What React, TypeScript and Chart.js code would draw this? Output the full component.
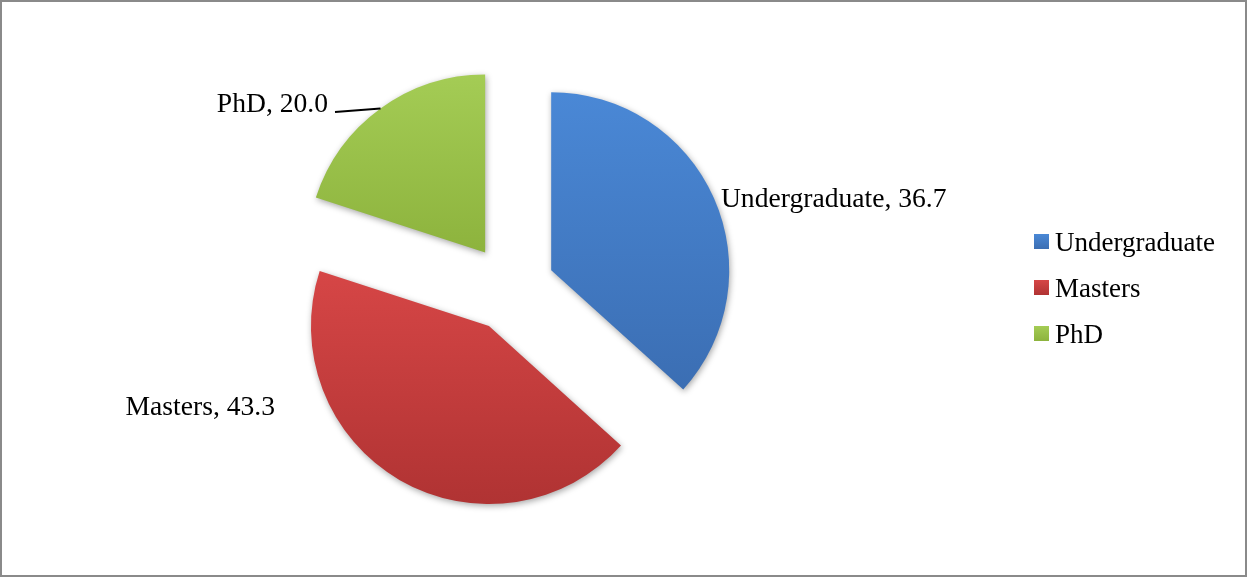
import React, { useEffect, useRef } from "react";
import { Chart, registerables } from "chart.js";

Chart.register(...registerables);

const categories = ["Undergraduate", "Masters", "PhD"];
const values = [36.7, 43.3, 20.0];

const topColors = ["#4a88d6", "#d64646", "#a4cc55"];
const bottomColors = ["#3b6eb3", "#b03333", "#8db33d"];

const RADIUS = 178;
const EXPLODE = 44;
const LABEL_FONT = '27.6px "Liberation Serif", "Times New Roman", serif';
const LEGEND_FONT = '27px "Liberation Serif", "Times New Roman", serif';

// label placement: clock angle (deg) from slice apex, distance as factor of radius, alignment
const labelAngles = [69.5, 247.4, 311.8];
const labelDist = [1.018, 1.302, 1.184];
const labelAlign: CanvasTextAlign[] = ["left", "right", "right"];
const labelLeader = [false, false, true];

function sliceGeometry(chart: any, i: number) {
  const area = chart.chartArea;
  const cx = (area.left + area.right) / 2;
  const cy = (area.top + area.bottom) / 2;
  const total = values.reduce((a, b) => a + b, 0);
  let start = -Math.PI / 2;
  for (let k = 0; k < i; k++) start += (values[k] / total) * Math.PI * 2;
  const end = start + (values[i] / total) * Math.PI * 2;
  const mid = (start + end) / 2;
  const ax = cx + Math.cos(mid) * EXPLODE;
  const ay = cy + Math.sin(mid) * EXPLODE;
  return { ax, ay, start, end, mid };
}

function gradientFor(c: any) {
  const chart = c.chart;
  const i = c.dataIndex;
  if (!chart.chartArea || i === undefined) return topColors[i || 0];
  const g = sliceGeometry(chart, i);
  let ymin = g.ay;
  let ymax = g.ay;
  for (let t = 0; t <= 40; t++) {
    const a = g.start + ((g.end - g.start) * t) / 40;
    const y = g.ay + Math.sin(a) * RADIUS;
    ymin = Math.min(ymin, y);
    ymax = Math.max(ymax, y);
  }
  const grad = chart.ctx.createLinearGradient(0, ymin, 0, ymax);
  grad.addColorStop(0, topColors[i]);
  grad.addColorStop(1, bottomColors[i]);
  return grad;
}

const explodePlugin = {
  id: "explodeSlices",
  beforeDatasetDraw(chart: any, args: any) {
    const ctx = chart.ctx;
    ctx.save();
    ctx.shadowColor = "rgba(0,0,0,0.35)";
    ctx.shadowBlur = 6;
    ctx.shadowOffsetX = 1;
    ctx.shadowOffsetY = 2;
    args.meta.data.forEach((arc: any) => {
      const mid = (arc.startAngle + arc.endAngle) / 2;
      arc.x += Math.cos(mid) * EXPLODE;
      arc.y += Math.sin(mid) * EXPLODE;
    });
  },
  afterDatasetDraw(chart: any, args: any) {
    chart.ctx.restore();
    args.meta.data.forEach((arc: any) => {
      const mid = (arc.startAngle + arc.endAngle) / 2;
      arc.x -= Math.cos(mid) * EXPLODE;
      arc.y -= Math.sin(mid) * EXPLODE;
    });
  },
  afterDatasetsDraw(chart: any) {
    const ctx = chart.ctx;
    const meta = chart.getDatasetMeta(0);
    ctx.save();
    ctx.font = LABEL_FONT;
    ctx.fillStyle = "#000";
    ctx.textBaseline = "alphabetic";
    meta.data.forEach((arc: any, i: number) => {
      const mid = (arc.startAngle + arc.endAngle) / 2;
      const ax = arc.x + Math.cos(mid) * EXPLODE;
      const ay = arc.y + Math.sin(mid) * EXPLODE;
      const r = arc.outerRadius;
      const la = ((labelAngles[i] - 90) * Math.PI) / 180;
      const lx = ax + Math.cos(la) * r * labelDist[i];
      const ly = ay + Math.sin(la) * r * labelDist[i];
      ctx.textAlign = labelAlign[i];
      ctx.fillText(`${categories[i]}, ${values[i].toFixed(1)}`, lx, ly);
      if (labelLeader[i]) {
        const px = ax + Math.cos(mid) * r;
        const py = ay + Math.sin(mid) * r;
        ctx.beginPath();
        ctx.strokeStyle = "#000";
        ctx.lineWidth = 2;
        ctx.moveTo(lx + 7, ly);
        ctx.lineTo(px, py);
        ctx.stroke();
      }
    });
    ctx.restore();
  },
  afterDraw(chart: any) {
    const ctx = chart.ctx;
    ctx.save();
    // legend
    const lx = 1034;
    const baselines = [251, 297, 343];
    ctx.font = LEGEND_FONT;
    ctx.textAlign = "left";
    ctx.textBaseline = "alphabetic";
    categories.forEach((name, i) => {
      const y = baselines[i] - 17;
      const g = ctx.createLinearGradient(0, y, 0, y + 15);
      g.addColorStop(0, topColors[i]);
      g.addColorStop(1, bottomColors[i]);
      ctx.fillStyle = g;
      ctx.fillRect(lx, y, 15, 15);
      ctx.fillStyle = "#000";
      ctx.fillText(name, lx + 21, baselines[i]);
    });
    // frame
    ctx.strokeStyle = "#8a8a8a";
    ctx.lineWidth = 2;
    ctx.strokeRect(1, 1, chart.width - 2, chart.height - 2);
    ctx.restore();
  },
};

export default function App() {
  const ref = useRef<HTMLCanvasElement>(null);
  useEffect(() => {
    document.body.style.margin = "0";
    const chart = new Chart(ref.current as HTMLCanvasElement, {
      type: "pie",
      data: {
        labels: categories,
        datasets: [
          {
            data: values,
            backgroundColor: (c: any) => gradientFor(c),
            borderWidth: 0,
            offset: 0,
          },
        ],
      },
      options: {
        responsive: false,
        animation: false,
        radius: RADIUS,
        layout: { padding: { left: 0, right: 225, top: 0, bottom: 1 } },
        plugins: {
          legend: { display: false },
          tooltip: { enabled: false },
        },
        events: [],
      } as any,
      plugins: [explodePlugin],
    });
    return () => chart.destroy();
  }, []);
  return (
    <div style={{ width: 1247, height: 577, background: "#fff" }}>
      <canvas ref={ref} width={1247} height={577} style={{ display: "block" }} />
    </div>
  );
}
